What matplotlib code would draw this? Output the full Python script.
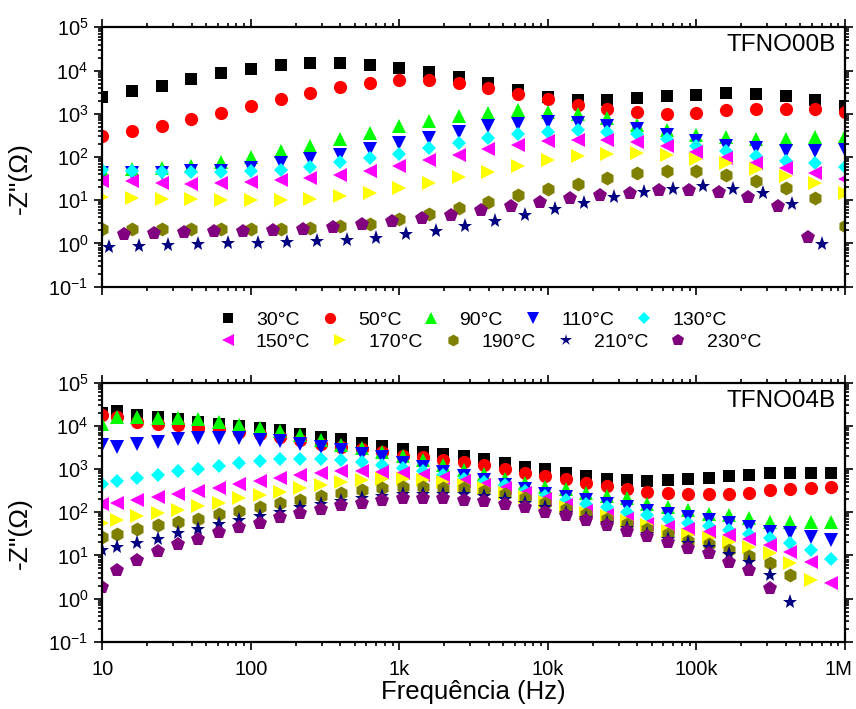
import numpy as np
import matplotlib
matplotlib.use("Agg")
import matplotlib.pyplot as plt
from matplotlib import transforms

plt.rcParams['font.family'] = ['Liberation Sans', 'DejaVu Sans']
plt.rcParams['mathtext.fontset'] = 'custom'
plt.rcParams['mathtext.rm'] = 'Liberation Sans'
plt.rcParams['mathtext.default'] = 'regular'

# --- dados: TFNO00B (painel superior) ---
freq_a = [10, 15.85, 25.12, 39.81, 63.1, 100, 158.5, 251.2, 398.1, 631, 1000, 1585, 2512,
          3981, 6310, 10000, 15850, 25120, 39810, 63100, 100000, 158500, 251200, 398100,
          631000, 1000000]
freq_a_210 = [11.1, 17.6, 27.9, 44.1, 70.0, 111, 176, 279, 441, 700, 1109, 1758, 2786, 4415,
              6998, 11090, 17580, 27860, 44150, 69980, 110900, 175800, 278600, 441500, 699800]
freq_a_230 = [8.91, 14.1, 22.4, 35.5, 56.2, 89.1, 141, 224, 355, 562, 891, 1413, 2239, 3548,
              5623, 8913, 14130, 22390, 35480, 56230, 89130, 141300, 223900, 354800, 562300]

a_30 = [2400, 3300, 4500, 6300, 8700, 11000, 13500, 15100, 15100, 13500, 11200, 9100, 7100,
        5100, 3550, 2400, 2090, 2090, 2290, 2510, 2750, 3020, 2880, 2630, 2040, 1510]
a_50 = [310, 390, 525, 760, 1050, 1510, 2190, 3020, 4070, 5130, 5890, 5890, 5130,
        3890, 2880, 2240, 1620, 1290, 1100, 1000, 1070, 1200, 1290, 1320, 1290, 1100]
a_90 = [51, 54, 56, 63, 76, 100, 135, 182, 263, 355, 513, 692, 891,
        1070, 1230, 1120, 977, 794, 562, 427, 331, 288, 263, 263, 288, 309]
a_110 = [43, 43, 43, 47, 47, 56, 71, 89, 112, 151, 209, 282, 372,
         525, 589, 631, 603, 525, 447, 331, 240, 182, 162, 141, 141, 148]
a_130 = [51, 47, 45, 45, 45, 47, 51, 60, 76, 95, 120, 162, 209,
         275, 347, 389, 417, 389, 347, 263, 182, 135, 107, 83, 71, 60]
a_150 = [27.5, 27.5, 25.1, 24.0, 25.1, 26.3, 28.8, 33.1, 38.9, 46.8, 63.1, 83.2, 112,
         151, 191, 229, 251, 251, 219, 182, 129, 95.5, 72.4, 56.2, 41.7, 30.2]
a_170 = [12.0, 11.0, 10.5, 10.5, 10.0, 10.0, 10.0, 10.7, 12.3, 15.1, 19.1, 25.1, 34.7,
         44.7, 63.1, 87.1, 107, 120, 123, 112, 89.1, 72.4, 52.5, 37.2, 25.1, 15.1]
a_190 = [2.19, 2.19, 2.19, 2.19, 2.19, 2.19, 2.19, 2.29, 2.51, 2.88, 3.72, 4.90, 6.61,
         8.91, 12.9, 17.8, 24.0, 33.1, 41.7, 46.8, 46.8, 38.9, 28.2, 19.1, 11.2, 2.51]
a_210 = [0.83, 0.87, 0.91, 0.95, 1.0, 1.05, 1.07, 1.12, 1.23, 1.35, 1.62, 1.91, 2.51,
         3.39, 4.68, 6.31, 8.71, 11.7, 15.5, 18.2, 20.9, 18.6, 14.8, 8.32, 0.95]
a_230 = [1.6, 1.66, 1.78, 1.82, 1.91, 1.91, 2.04, 2.19, 2.40, 2.75, 3.31, 3.80, 4.68,
         5.89, 7.24, 8.91, 11.0, 13.2, 15.1, 17.0, 17.0, 15.5, 12.0, 7.24, 1.41]

# --- dados: TFNO04B (painel inferior) ---
freq_b = [10, 12.5, 17.1, 23.6, 32.3, 44.4, 60.8, 83.4, 114.6, 157.0, 215.8, 295.8, 405.5,
          557.2, 763.8, 1050, 1439, 1972, 2710, 3715, 5105, 7000, 9594, 13180, 18070, 24830,
          34040, 46670, 64120, 87900, 120800, 165600, 227000, 311900, 427600, 587500, 805400]

b_30 = [20000, 22400, 17800, 16200, 14800, 12300, 11200, 9770, 8910, 7940, 6610, 5620, 4900,
        4070, 3390, 2950, 2510, 2290, 2000, 1740, 1380, 1120, 977, 794, 676, 603, 550, 537,
        550, 603, 631, 676, 741, 813, 813, 813, 794]
b_50 = [17800, 16200, 12300, 11200, 10500, 8710, 8320, 7240, 6610, 5620, 4680, 3890, 3240,
        2950, 2510, 2000, 1860, 1660, 1480, 1230, 1020, 813, 676, 575, 479, 398, 339, 295,
        282, 263, 263, 263, 282, 324, 339, 372, 389]
b_90 = [11200, 16200, 16200, 15500, 15500, 14100, 12300, 10500, 8710, 7590, 6030, 4790, 3550,
        3090, 2510, 2000, 1660, 1230, 955, 759, 603, 479, 389, 339, 282, 234, 209, 158, 132,
        112, 93, 87, 72, 60, 60, 60, 60]
b_110 = [3550, 3240, 3800, 4270, 4900, 5250, 5250, 5250, 4790, 4370, 3800, 3240, 2750, 2190,
         1860, 1380, 1120, 851, 676, 550, 427, 339, 269, 229, 191, 158, 132, 107, 89, 79, 66,
         55, 46, 35.5, 32.4, 26.9, 22.9]
b_130 = [457, 525, 631, 724, 912, 1020, 1170, 1350, 1550, 1740, 1740, 1740, 1580, 1480, 1230,
         1070, 912, 724, 603, 501, 427, 316, 240, 191, 155, 129, 102, 85, 71, 55, 48, 39, 32,
         25, 19, 13.2, 8.1]
b_150 = [158, 166, 195, 229, 263, 309, 372, 447, 537, 631, 724, 813, 912, 912, 851, 794, 724,
         631, 525, 427, 355, 282, 200, 145, 107, 85, 68, 52, 46, 40, 35.5, 29.5, 23.4, 17.4,
         12.3, 7.1, 2.34]
b_170 = [55, 65, 81, 95, 112, 138, 166, 209, 245, 295, 355, 427, 501, 550, 603, 603, 550, 501,
         427, 355, 282, 224, 174, 132, 95, 81, 63, 50, 37, 29.5, 25.1, 20.9, 15.8, 11.2, 6.8,
         2.7]
b_190 = [27, 32, 40, 50, 60, 71, 89, 107, 132, 166, 195, 234, 282, 324, 355, 389, 389, 372,
         355, 309, 263, 209, 166, 120, 93, 71, 52, 40, 31, 21.9, 18.2, 13.2, 9.8, 6.8, 3.55]
b_210 = [13.2, 15.8, 19.5, 24.5, 32.4, 41.7, 52.5, 64.6, 81.3, 102, 129, 155, 182, 209, 234,
         263, 269, 269, 263, 240, 204, 166, 132, 98, 74, 56, 42, 32, 24.5, 19.1, 15.8, 10.7,
         7.1, 3.55, 0.85]
b_230 = [1.86, 4.57, 7.76, 12.6, 18.2, 24.5, 34.7, 45.7, 57.5, 77.6, 95.5, 120, 145, 166, 191,
         209, 209, 209, 195, 182, 158, 132, 102, 85, 65, 50, 37, 27.5, 20.4, 14.5, 11.2, 7.1,
         4.57, 1.74]

temps = ['30°C', '50°C', '90°C', '110°C', '130°C', '150°C', '170°C', '190°C', '210°C', '230°C']
cores = ['#000000', '#FF0000', '#00FF00', '#0000FF', '#00FFFF',
         '#FF00FF', '#FFFF00', '#808000', '#000080', '#800080']
marcadores = ['s', 'o', '^', 'v', 'D', '<', '>', 'h', '*', 'p']
tamanhos = [9, 9.5, 9.5, 9.5, 7, 9.5, 9.5, 10, 11, 10.5]

top_x = [freq_a] * 8 + [freq_a_210, freq_a_230]
top_y = [a_30, a_50, a_90, a_110, a_130, a_150, a_170, a_190, a_210, a_230]
bot_y = [b_30, b_50, b_90, b_110, b_130, b_150, b_170, b_190, b_210, b_230]

fig = plt.figure(figsize=(8.56, 7.09), dpi=100)
ax1 = fig.add_axes([0.1195, 0.5956, 0.8676, 0.3659])
ax2 = fig.add_axes([0.1195, 0.0949, 0.8676, 0.3653])

handles = []
for i in range(10):
    h, = ax1.plot(top_x[i], top_y[i], linestyle='none', marker=marcadores[i],
                  color=cores[i], markersize=tamanhos[i], markeredgewidth=0, label=temps[i])
    handles.append(h)
    fb = freq_b[:len(bot_y[i])]
    ax2.plot(fb, bot_y[i], linestyle='none', marker=marcadores[i],
             color=cores[i], markersize=tamanhos[i], markeredgewidth=0)

x_ticks = [10, 100, 1e3, 1e4, 1e5, 1e6]
x_labels = ['10', '100', '1k', '10k', '100k', '1M']

for ax, nome in [(ax1, 'TFNO00B'), (ax2, 'TFNO04B')]:
    ax.set_xscale('log')
    ax.set_yscale('log')
    ax.set_xlim(10, 1e6)
    ax.set_ylim(0.1, 1e5)
    ax.set_yticks([0.1, 1, 10, 100, 1e3, 1e4, 1e5])
    ax.yaxis.set_minor_locator(matplotlib.ticker.LogLocator(base=10, subs=np.arange(2, 10), numticks=20))
    ax.xaxis.set_minor_locator(matplotlib.ticker.LogLocator(base=10, subs=np.arange(2, 10), numticks=20))
    ax.yaxis.set_minor_formatter(matplotlib.ticker.NullFormatter())
    ax.xaxis.set_minor_formatter(matplotlib.ticker.NullFormatter())
    ax.tick_params(which='both', direction='out', top=True, right=True, labelsize=14.5, width=1.2)
    ax.tick_params(which='major', length=6, pad=4)
    ax.tick_params(which='minor', length=3)
    for s in ax.spines.values():
        s.set_linewidth(1.6)
    ax.set_ylabel('-Z"(Ω)', fontsize=19)
    ax.yaxis.set_label_coords(-0.095, 0.42)
    ax.text(0.988, 0.93, nome, transform=ax.transAxes, ha='right', va='center', fontsize=17.5)

ax1.set_xticks(x_ticks)
ax1.set_xticklabels([])
ax2.set_xticks(x_ticks)
ax2.set_xticklabels(x_labels)
ax2.tick_params(axis='x', pad=7)
ax2.set_xlabel('Frequência (Hz)', fontsize=18.5, labelpad=1)

# "1M" um pouco para a esquerda para caber na figura
ultimo = ax2.get_xticklabels()[-1]
ultimo.set_transform(ultimo.get_transform() + transforms.ScaledTranslation(-5 / 72, 0, fig.dpi_scale_trans))

# legenda em duas linhas entre os painéis
for linha, y in [(handles[:5], 1 - 320 / 709), (handles[5:], 1 - 342 / 709)]:
    fig.legend(handles=linha, loc='center left', bbox_to_anchor=(218 / 856, y), ncol=5,
               frameon=False, fontsize=14, handlelength=1.0, handletextpad=0.95,
               columnspacing=1.05, borderpad=0, borderaxespad=0, markerscale=0.85)

fig.savefig('out.png', dpi=100)
